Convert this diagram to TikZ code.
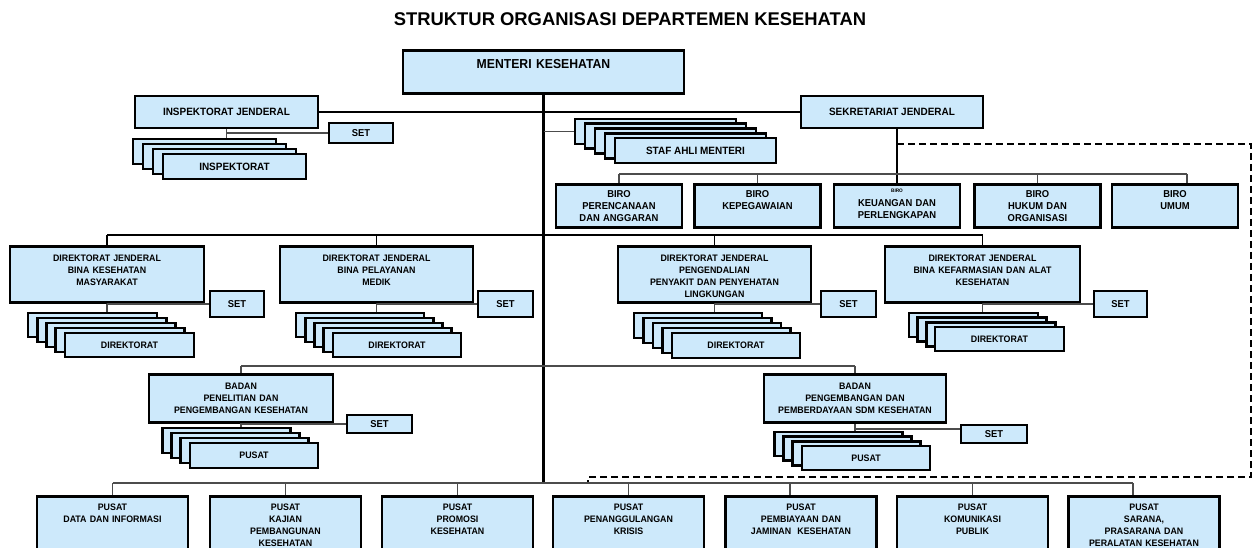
\documentclass[tikz,border=0pt]{standalone}
\usepackage{fontspec}
\setmainfont{Liberation Sans}
\newfontfamily\orgfont[FakeStretch=0.94]{Liberation Sans}
\usetikzlibrary{positioning,calc}

\definecolor{boxblue}{RGB}{205,233,251}

\tikzset{
  box/.style={draw=black, line width=2.8pt, fill=boxblue, inner sep=0pt, align=center},
  cbox/.style 2 args={box, minimum width=#1, minimum height=#2},
  tbox/.style n args={3}{box, anchor=north, text width=#1, text height=#2, text depth=#3},
  mainline/.style={line width=2.4pt, black},
  busline/.style={line width=1.7pt, black},
  subline/.style={line width=1.6pt, black!70},
  grpline/.style={line width=2.2pt, black, dash pattern=on 7pt off 4pt},
  fbig/.style={font=\orgfont\bfseries\fontsize{13}{15}\selectfont},
  fmid/.style={font=\orgfont\bfseries\fontsize{10.6}{12}\selectfont},
  fbiro/.style={font=\orgfont\bfseries\fontsize{10}{12}\selectfont},
  fsmall/.style={font=\orgfont\bfseries\fontsize{9.4}{12}\selectfont},
}

\begin{document}
\begin{tikzpicture}[x=1pt, y=-1pt]
        \useasboundingbox (0,0) rectangle (1256,548);
        \clip (0,0) rectangle (1256,548);
        % title
        \node[font=\bfseries\fontsize{18.4}{22}\selectfont] (title) at (630,19) {STRUKTUR ORGANISASI DEPARTEMEN KESEHATAN};
        % bus lines
        \coordinate (busR) at (0,174);
        \coordinate (busD) at (0,235);
        \coordinate (busB) at (0,366);
        \coordinate (busP) at (0,483);
        \coordinate (dTR) at (1251,144);
        \coordinate (dBL) at (588,477);
        % top level
        \node[tbox={281pt}{18.6pt}{24.4pt}, fbig] (mk) at (543.5,49) {MENTERI KESEHATAN};
        \node[cbox={183pt}{32pt}, fmid] (ij) at (226.5,112) {INSPEKTORAT JENDERAL};
        \node[cbox={182pt}{32pt}, fmid] (sj) at (892,112) {SEKRETARIAT JENDERAL};
        \node[cbox={64pt}{20pt}, fbiro] (setij) at (361,133) {SET};
        % inspektorat and staf ahli stacks
        \foreach \i in {3,2,1}
            \node[cbox={143pt}{25pt}] (insp\i) at ({234.5-10*\i},{166.5-5*\i}) {};
        \node[cbox={143pt}{25pt}, fmid] (insp) at (234.5,166.5) {INSPEKTORAT};
        \foreach \i in {4,3,2,1}
            \node[cbox={161pt}{25pt}] (staf\i) at ({695.5-10*\i},{150.5-4.75*\i}) {};
        \node[cbox={161pt}{25pt}, fmid] (staf) at (695.5,150.5) {STAF AHLI MENTERI};
        % biro
        \node[tbox={126pt}{13.5pt}{29.5pt}, fbiro] (bp) at (619,183) {BIRO\\PERENCANAAN\\DAN ANGGARAN};
        \node[tbox={126pt}{13.5pt}{29.5pt}, fbiro] (bkp) at (757.5,183) {BIRO\\KEPEGAWAIAN};
        \node[tbox={126pt}{7.8pt}{35.2pt}, fbiro] (bk) at (897,183) {{\fontsize{5}{6}\selectfont BIRO}\\[2pt]KEUANGAN DAN\\PERLENGKAPAN};
        \node[tbox={126pt}{13.5pt}{29.5pt}, fbiro] (bh) at (1037.5,183) {BIRO\\HUKUM DAN\\ORGANISASI};
        \node[tbox={126pt}{13.5pt}{29.5pt}, fbiro] (bu) at (1175,183) {BIRO\\UMUM};
        \coordinate (buTop) at ([xshift=12pt]bu.north);
        % direktorat jenderal
        \node[tbox={194pt}{15.4pt}{40.6pt}, fsmall] (dk) at (107,245) {DIREKTORAT JENDERAL\\BINA KESEHATAN\\MASYARAKAT};
        \node[tbox={193pt}{15.4pt}{40.6pt}, fsmall] (dy) at (376.5,245) {DIREKTORAT JENDERAL\\BINA PELAYANAN\\MEDIK};
        \node[tbox={193pt}{15.4pt}{40.6pt}, fsmall] (dp) at (714.5,245) {DIREKTORAT JENDERAL\\PENGENDALIAN\\PENYAKIT DAN PENYEHATAN\\LINGKUNGAN};
        \node[tbox={195pt}{15.4pt}{40.6pt}, fsmall] (df) at (982.5,245) {DIREKTORAT JENDERAL\\BINA KEFARMASIAN DAN ALAT\\KESEHATAN};
        \node[cbox={54pt}{26pt}, fbiro] (sk) at (237,304) {SET};
        \node[cbox={55pt}{26pt}, fbiro] (sy) at (505.5,304) {SET};
        \node[cbox={55pt}{26pt}, fbiro] (sp) at (848.5,304) {SET};
        \node[cbox={53pt}{26pt}, fbiro] (sf) at (1120.5,304) {SET};
        % direktorat stacks
        \foreach \i in {4,3,2,1}
            \node[cbox={129pt}{24pt}] (dirk\i) at ({129.5-9.25*\i},{345-5*\i}) {};
        \node[cbox={129pt}{24pt}, fsmall] (dirk) at (129.5,345) {DIREKTORAT};
        \foreach \i in {4,3,2,1}
            \node[cbox={128pt}{24pt}] (diry\i) at ({397-9.25*\i},{345-5*\i}) {};
        \node[cbox={128pt}{24pt}, fsmall] (diry) at (397,345) {DIREKTORAT};
        \foreach \i in {4,3,2,1}
            \node[cbox={128pt}{25pt}] (dirp\i) at ({736-9.5*\i},{345.5-5*\i}) {};
        \node[cbox={128pt}{25pt}, fsmall] (dirp) at (736,345.5) {DIREKTORAT};
        \foreach \i in {3,2,1}
            \node[cbox={129pt}{24pt}] (dirf\i) at ({999.5-8.7*\i},{339-4.7*\i}) {};
        \node[cbox={129pt}{24pt}, fsmall] (dirf) at (999.5,339) {DIREKTORAT};
        % badan
        \node[tbox={184pt}{15.4pt}{33pt}, fsmall] (bl) at (241,373) {BADAN\\PENELITIAN DAN\\PENGEMBANGAN KESEHATAN};
        \node[tbox={182pt}{15.4pt}{33pt}, fsmall] (bs) at (855,373) {BADAN\\PENGEMBANGAN DAN\\PEMBERDAYAAN SDM KESEHATAN};
        \node[cbox={65pt}{18pt}, fbiro] (setbl) at (379.5,424) {SET};
        \node[cbox={66pt}{18pt}, fbiro] (setbs) at (994,434) {SET};
        \foreach \i in {3,2,1}
            \node[cbox={128pt}{25pt}] (pusl\i) at ({254-9.3*\i},{455.5-5*\i}) {};
        \node[cbox={128pt}{25pt}, fsmall] (pusl) at (254,455.5) {PUSAT};
        \foreach \i in {3,2,1}
            \node[cbox={128pt}{24pt}] (puss\i) at ({866-9.3*\i},{458-4.7*\i}) {};
        \node[cbox={128pt}{24pt}, fsmall] (puss) at (866,458) {PUSAT};
        % pusat
        \node[tbox={151pt}{14.4pt}{50.6pt}, fsmall] (p1) at (112.5,495) {PUSAT\\DATA DAN INFORMASI};
        \node[tbox={151pt}{14.4pt}{50.6pt}, fsmall] (p2) at (285.5,495) {PUSAT\\KAJIAN\\PEMBANGUNAN\\KESEHATAN};
        \node[tbox={151pt}{14.4pt}{50.6pt}, fsmall] (p3) at (457.5,495) {PUSAT\\PROMOSI\\KESEHATAN};
        \node[tbox={151pt}{14.4pt}{50.6pt}, fsmall] (p4) at (628.5,495) {PUSAT\\PENANGGULANGAN\\KRISIS};
        \node[tbox={151pt}{14.4pt}{50.6pt}, fsmall] (p5) at (801,495) {PUSAT\\PEMBIAYAAN DAN\\JAMINAN\ \ KESEHATAN};
        \node[tbox={151pt}{14.4pt}{50.6pt}, fsmall] (p6) at (972.5,495) {PUSAT\\KOMUNIKASI\\PUBLIK};
        \node[tbox={151pt}{14.4pt}{50.6pt}, fsmall] (p7) at (1144,495) {PUSAT\\SARANA,\\PRASARANA DAN\\PERALATAN KESEHATAN};
        \coordinate (p5Top) at ([xshift=-11pt]p5.north);
        \coordinate (p7Top) at ([xshift=-11pt]p7.north);
        % main lines
        \draw[mainline] (mk.south) -- (mk.south |- busP);
        \draw[mainline] (ij.east) -- (sj.west);
        \draw[subline] (mk.south |- staf4.west) -- (staf4.west);
        \draw[subline] (ij.south) -- (ij.south |- insp3.north);
        \draw[subline] (ij.south) |- (setij.west);
        % sekretariat and biro
        \draw[busline] (sj.south -| bk.north) -- (bk.north);
        \draw[subline] (bp.north |- busR) -- (buTop |- busR);
        \foreach \n in {bp,bkp,bh}
            \draw[subline] (\n.north |- busR) -- (\n.north);
        \draw[subline] (buTop |- busR) -- (buTop);
        \draw[grpline] (bk.north |- dTR) -- (dTR) -- (dTR |- dBL) -- (dBL) -- (dBL |- busP);
        % direktorat jenderal
        \draw[busline] (dk.north |- busD) -- (df.north |- busD);
        \foreach \n/\s/\d in {dk/sk/dirk4, dy/sy/diry4, dp/sp/dirp4, df/sf/dirf3} {
            \draw[busline] (\n.north |- busD) -- (\n.north);
            \draw[subline] (\n.south) -- (\n.south |- \d.north);
            \draw[subline] (\n.south) |- (\s.west);
        }
        % badan
        \draw[subline] (bl.north |- busB) -- (bs.north |- busB);
        \draw[subline] (bl.north |- busB) -- (bl.north);
        \draw[subline] (bs.north |- busB) -- (bs.north);
        \draw[subline] (bl.south) -- (bl.south |- pusl3.north);
        \draw[subline] (bl.south) |- (setbl.west);
        \draw[subline] (bs.south) -- (bs.south |- puss3.north);
        \draw[subline] (bs.south) |- ([yshift=5pt]setbs.west);
        % pusat
        \draw[subline] (p1.north |- busP) -- (p7Top |- busP);
        \foreach \n in {p1,p2,p3,p4,p6}
            \draw[subline] (\n.north |- busP) -- (\n.north);
        \draw[subline] (p5Top |- busP) -- (p5Top);
        \draw[subline] (p7Top |- busP) -- (p7Top);
\end{tikzpicture}
\end{document}
